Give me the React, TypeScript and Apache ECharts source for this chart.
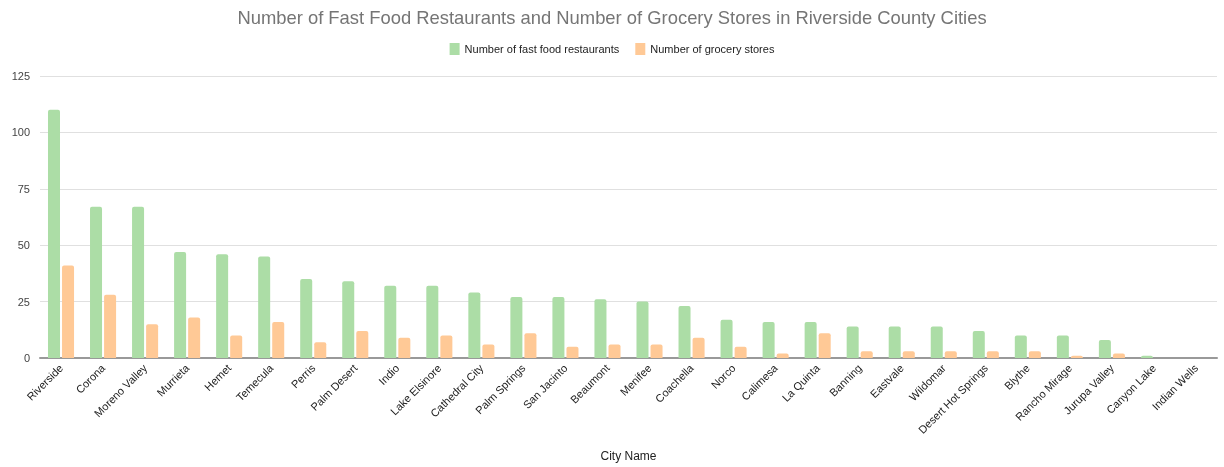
import React, { useEffect, useRef } from "react";
import * as echarts from "echarts";

const cities = [
  "Riverside", "Corona", "Moreno Valley", "Murrieta", "Hemet", "Temecula", "Perris",
  "Palm Desert", "Indio", "Lake Elsinore", "Cathedral City", "Palm Springs", "San Jacinto",
  "Beaumont", "Menifee", "Coachella", "Norco", "Calimesa", "La Quinta", "Banning",
  "Eastvale", "Wildomar", "Desert Hot Springs", "Blythe", "Rancho Mirage", "Jurupa Valley",
  "Canyon Lake", "Indian Wells",
];
const fastFood = [110, 67, 67, 47, 46, 45, 35, 34, 32, 32, 29, 27, 27, 26, 25, 23, 17, 16, 16, 14, 14, 14, 12, 10, 10, 8, 1, 0];
const grocery = [41, 28, 15, 18, 10, 16, 7, 12, 9, 10, 6, 11, 5, 6, 6, 9, 5, 2, 11, 3, 3, 3, 3, 3, 1, 2, 0, 0];
const yTicks = { min: 0, max: 125, interval: 25 };

const FONT = "'Liberation Sans', Arial, sans-serif";

export default function App() {
  const ref = useRef<HTMLDivElement>(null);
  useEffect(() => {
    const chart = echarts.init(ref.current!, null, { renderer: "svg" });
    chart.setOption({
      animation: false,
      textStyle: { fontFamily: FONT },
      title: {
        text: "Number of Fast Food Restaurants and Number of Grocery Stores in Riverside County Cities",
        left: "center",
        top: 3,
        textStyle: { fontFamily: FONT, fontSize: 18.4, fontWeight: "normal", color: "#757575" },
      },
      legend: {
        top: 38,
        left: "center",
        itemWidth: 10,
        itemHeight: 12,
        itemGap: 16,
        icon: "rect",
        textStyle: { fontFamily: FONT, fontSize: 11, color: "#222" },
      },
      grid: { left: 40, right: 7, top: 76, bottom: 109 },
      xAxis: {
        type: "category",
        data: cities,
        name: "City Name",
        nameLocation: "middle",
        nameGap: 92,
        nameTextStyle: { fontFamily: FONT, fontSize: 12, color: "#222" },
        axisTick: { show: false },
        axisLine: { lineStyle: { color: "#999", width: 2 } },
        axisLabel: { rotate: 45, interval: 0, fontSize: 11, color: "#222", fontFamily: FONT, margin: 8 },
      },
      yAxis: {
        type: "value",
        min: yTicks.min,
        max: yTicks.max,
        interval: yTicks.interval,
        axisLabel: { fontSize: 11, color: "#444", fontFamily: FONT, margin: 10 },
        splitLine: { lineStyle: { color: "#e0e0e0" } },
        axisLine: { show: false },
        axisTick: { show: false },
      },
      series: [
        {
          name: "Number of fast food restaurants",
          type: "bar",
          data: fastFood,
          itemStyle: { color: "#acdda6", borderRadius: [2, 2, 0, 0] },
          barGap: "17%",
          barCategoryGap: "38%",
        },
        {
          name: "Number of grocery stores",
          type: "bar",
          data: grocery,
          itemStyle: { color: "#ffc996", borderRadius: [2, 2, 0, 0] },
        },
      ],
    });
    return () => chart.dispose();
  }, []);
  return <div ref={ref} style={{ position: "fixed", left: 0, top: 0, width: 1224, height: 467 }} />;
}
